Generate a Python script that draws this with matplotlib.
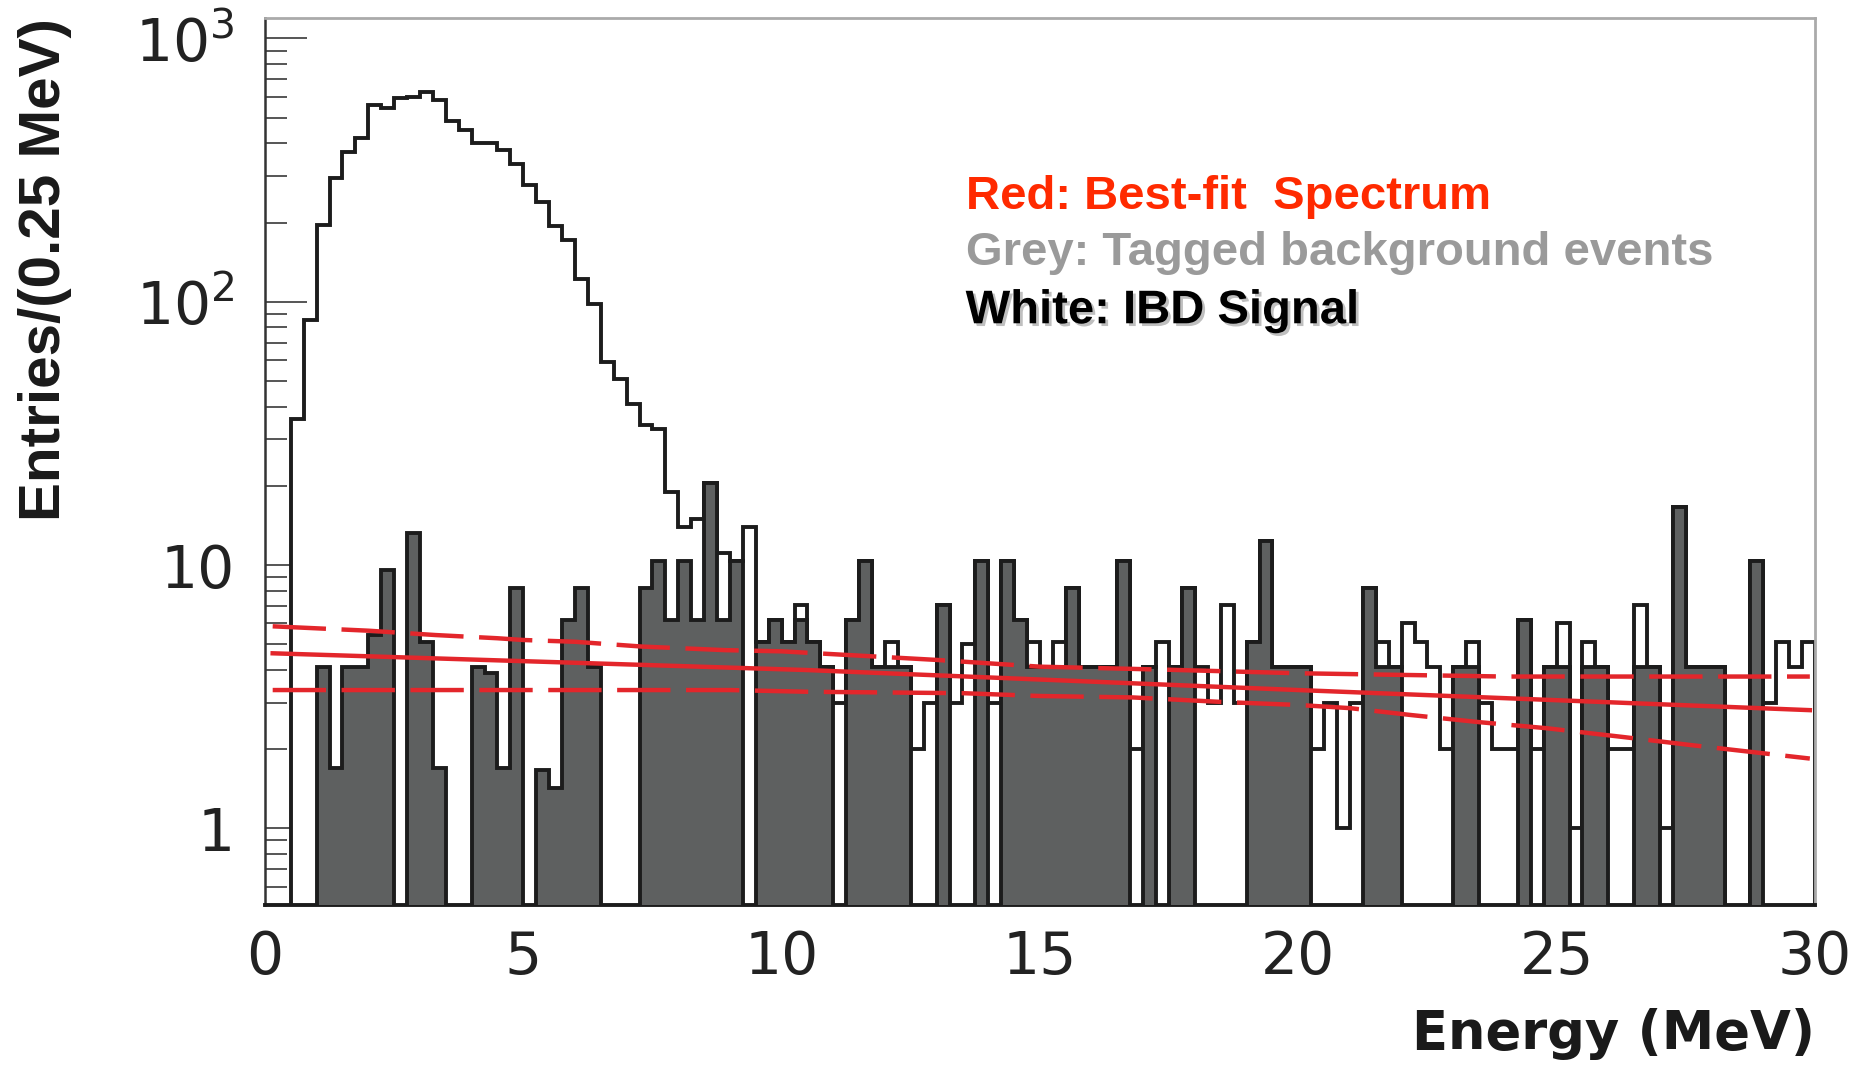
import matplotlib
matplotlib.use('Agg')
import matplotlib.pyplot as plt
import matplotlib.ticker as mticker
import matplotlib.patheffects as pe
from matplotlib import font_manager
import numpy as np

plt.rcParams['mathtext.default'] = 'regular'

# 0.25 MeV bins from 0 to 30 MeV
bin_width = 0.25
edges = np.arange(0, 30 + bin_width / 2, bin_width)

# white histogram: IBD candidates (entries per bin)
ibd_signal = [
    0, 0, 36, 85, 195, 294, 371, 418, 559, 543,
    592, 601, 628, 584, 486, 449, 400, 400, 377, 335,
    277, 240, 194, 172, 122, 98, 59, 51, 41, 34,
    33, 19, 13.9, 15, 20.4, 11.1, 10.4, 14, 5.1, 6.2,
    5.1, 7.05, 5.1, 4.1, 3.0, 6.2, 10.4, 4.1, 5.1, 4.1,
    2.0, 3.0, 7.05, 3.0, 5.0, 10.4, 3.0, 10.4, 6.2, 5.1,
    4.1, 5.1, 8.15, 4.1, 4.1, 4.1, 10.4, 2.0, 4.1, 5.1,
    4.1, 8.15, 4.1, 3.0, 7.05, 3.0, 5.1, 12.3, 4.1, 4.1,
    4.1, 2.0, 3.0, 1.0, 3.0, 8.15, 5.1, 4.1, 6.0, 5.1,
    4.1, 2.0, 4.1, 5.1, 3.0, 2.0, 2.0, 6.2, 2.0, 4.1,
    6.0, 1.0, 5.1, 4.1, 2.0, 2.0, 7.05, 4.1, 1.0, 16.6,
    4.1, 4.1, 4.1, 0, 0, 10.4, 3.0, 5.1, 4.1, 5.1,
]

# grey histogram: tagged background events
tagged_bg = [
    0, 0, 0, 0, 4.1, 1.7, 4.1, 4.1, 5.4, 9.6,
    0, 13.2, 5.1, 1.7, 0, 0, 4.1, 3.9, 1.7, 8.15,
    0, 1.66, 1.42, 6.2, 8.15, 4.1, 0, 0, 0, 8.15,
    10.4, 6.2, 10.4, 6.2, 20.4, 6.2, 10.4, 0, 5.1, 6.2,
    5.1, 6.2, 5.1, 4.1, 0, 6.2, 10.4, 4.1, 4.1, 4.1,
    0, 0, 7.05, 0, 0, 10.4, 0, 10.4, 6.2, 4.1,
    4.1, 4.1, 8.15, 4.1, 4.1, 4.1, 10.4, 0, 4.1, 0,
    4.1, 8.15, 0, 0, 0, 0, 5.1, 12.3, 4.1, 4.1,
    4.1, 0, 0, 0, 0, 8.15, 4.1, 4.1, 0, 0,
    0, 0, 4.1, 4.1, 0, 0, 0, 6.2, 0, 4.1,
    4.1, 0, 4.1, 4.1, 0, 0, 4.1, 4.1, 0, 16.6,
    4.1, 4.1, 4.1, 0, 0, 10.4, 0, 0, 0, 0,
]

# best-fit background spectrum and its band
fit_e = [0.15, 10.5, 20.0, 29.9]
fit_central = [4.62, 3.99, 3.35, 2.81]
upper_e = [0.15, 2.0, 3.3, 4.5, 5.0, 6.0, 7.3, 8.9, 10.0, 13.0, 15.0, 17.5, 20.0, 24.0, 29.9]
upper_val = [5.85, 5.63, 5.42, 5.27, 5.19, 5.11, 4.9, 4.75, 4.7, 4.36, 4.11, 4.0, 3.88, 3.77, 3.77]
lower_e = [0.15, 9.0, 10.5, 13.5, 15.0, 16.8, 18.5, 20.0, 21.0, 22.2, 23.5, 24.8, 26.3, 27.6, 29.9]
lower_val = [3.35, 3.35, 3.3, 3.26, 3.18, 3.14, 3.02, 2.94, 2.86, 2.69, 2.53, 2.4, 2.22, 2.07, 1.84]

y_ticks = [1, 10, 100, 1000]
y_tick_labels = ['1', '10', '$10^2$', '$10^3$']
x_ticks = [0, 5, 10, 15, 20, 25, 30]


def has_font(name):
    try:
        font_manager.findfont(font_manager.FontProperties(family=name), fallback_to_default=False)
        return True
    except ValueError:
        return False


fig = plt.figure(figsize=(18.75, 10.66), dpi=100)
ax = fig.add_axes([0.1413, 0.151, 0.8267, 0.832])

floor = 1e-3
white = np.where(np.array(ibd_signal) > 0, ibd_signal, floor)
grey = np.where(np.array(tagged_bg) > 0, tagged_bg, floor)

ax.stairs(white, edges, baseline=floor, fill=True, facecolor='white',
          edgecolor='#1c1c1c', linewidth=2.8, zorder=2)
ax.stairs(grey, edges, baseline=floor, fill=True, facecolor='#5e6060',
          edgecolor='#1c1c1c', linewidth=2.8, zorder=3)

red = '#e3262b'
ax.plot(fit_e, fit_central, color=red, lw=3.2, zorder=4)
ax.plot(upper_e, upper_val, color=red, lw=3.2, linestyle=(0, (12, 3.5)), zorder=4)
ax.plot(lower_e, lower_val, color=red, lw=3.2, linestyle=(0, (12, 3.5)), zorder=4)

ax.set_yscale('log')
ax.set_xlim(0, 30)
ax.set_ylim(0.511, 1195)

ax.set_yticks(y_ticks)
ax.set_yticklabels(y_tick_labels)
ax.yaxis.set_minor_locator(mticker.LogLocator(base=10, subs=np.arange(2, 10), numticks=20))
ax.yaxis.set_minor_formatter(mticker.NullFormatter())
ax.tick_params(axis='y', which='major', direction='in', length=30, width=1.4,
               color='#555555', pad=22, labelsize=42, labelcolor='#222222')
ax.tick_params(axis='y', which='minor', direction='in', length=16, width=1.4, color='#555555')

ax.set_xticks(x_ticks)
ax.tick_params(axis='x', which='both', length=0, pad=17, labelsize=42, labelcolor='#222222')

for side in ['top', 'right']:
    ax.spines[side].set_color('#aaaaaa')
    ax.spines[side].set_linewidth(2.0)
ax.spines['left'].set_color('#333333')
ax.spines['left'].set_linewidth(1.8)
ax.spines['bottom'].set_color('#1c1c1c')
ax.spines['bottom'].set_linewidth(2.8)

# axis titles
if has_font('Liberation Sans Narrow'):
    ylab_family, ylab_size = ['Liberation Sans Narrow', 'DejaVu Sans'], 48
else:
    ylab_family, ylab_size = ['Liberation Sans', 'DejaVu Sans'], 42
fig.text(0.024, 0.747, 'Entries/(0.25 MeV)', rotation=90, ha='center', va='center',
         family=ylab_family, fontsize=ylab_size, fontweight='bold', color='#1a1a1a')
fig.text(0.968, 0.030, 'Energy (MeV)', ha='right', va='center',
         fontsize=38, fontweight='bold', color='#1a1a1a')

# colour key
key_font = ['Liberation Sans', 'DejaVu Sans']
fig.text(0.515, 0.815, 'Red: Best-fit  Spectrum', ha='left', va='center',
         family=key_font, fontsize=34, fontweight='bold', color='#ff2a00')
fig.text(0.515, 0.763, 'Grey: Tagged background events', ha='left', va='center',
         family=key_font, fontsize=34, fontweight='bold', color='#9a9a9a')
fig.text(0.515, 0.708, 'White: IBD Signal', ha='left', va='center',
         family=key_font, fontsize=34, fontweight='bold', color='black',
         path_effects=[pe.SimplePatchShadow(offset=(2, -2), alpha=0.25), pe.Normal()])

fig.savefig('out.png', dpi=100)
